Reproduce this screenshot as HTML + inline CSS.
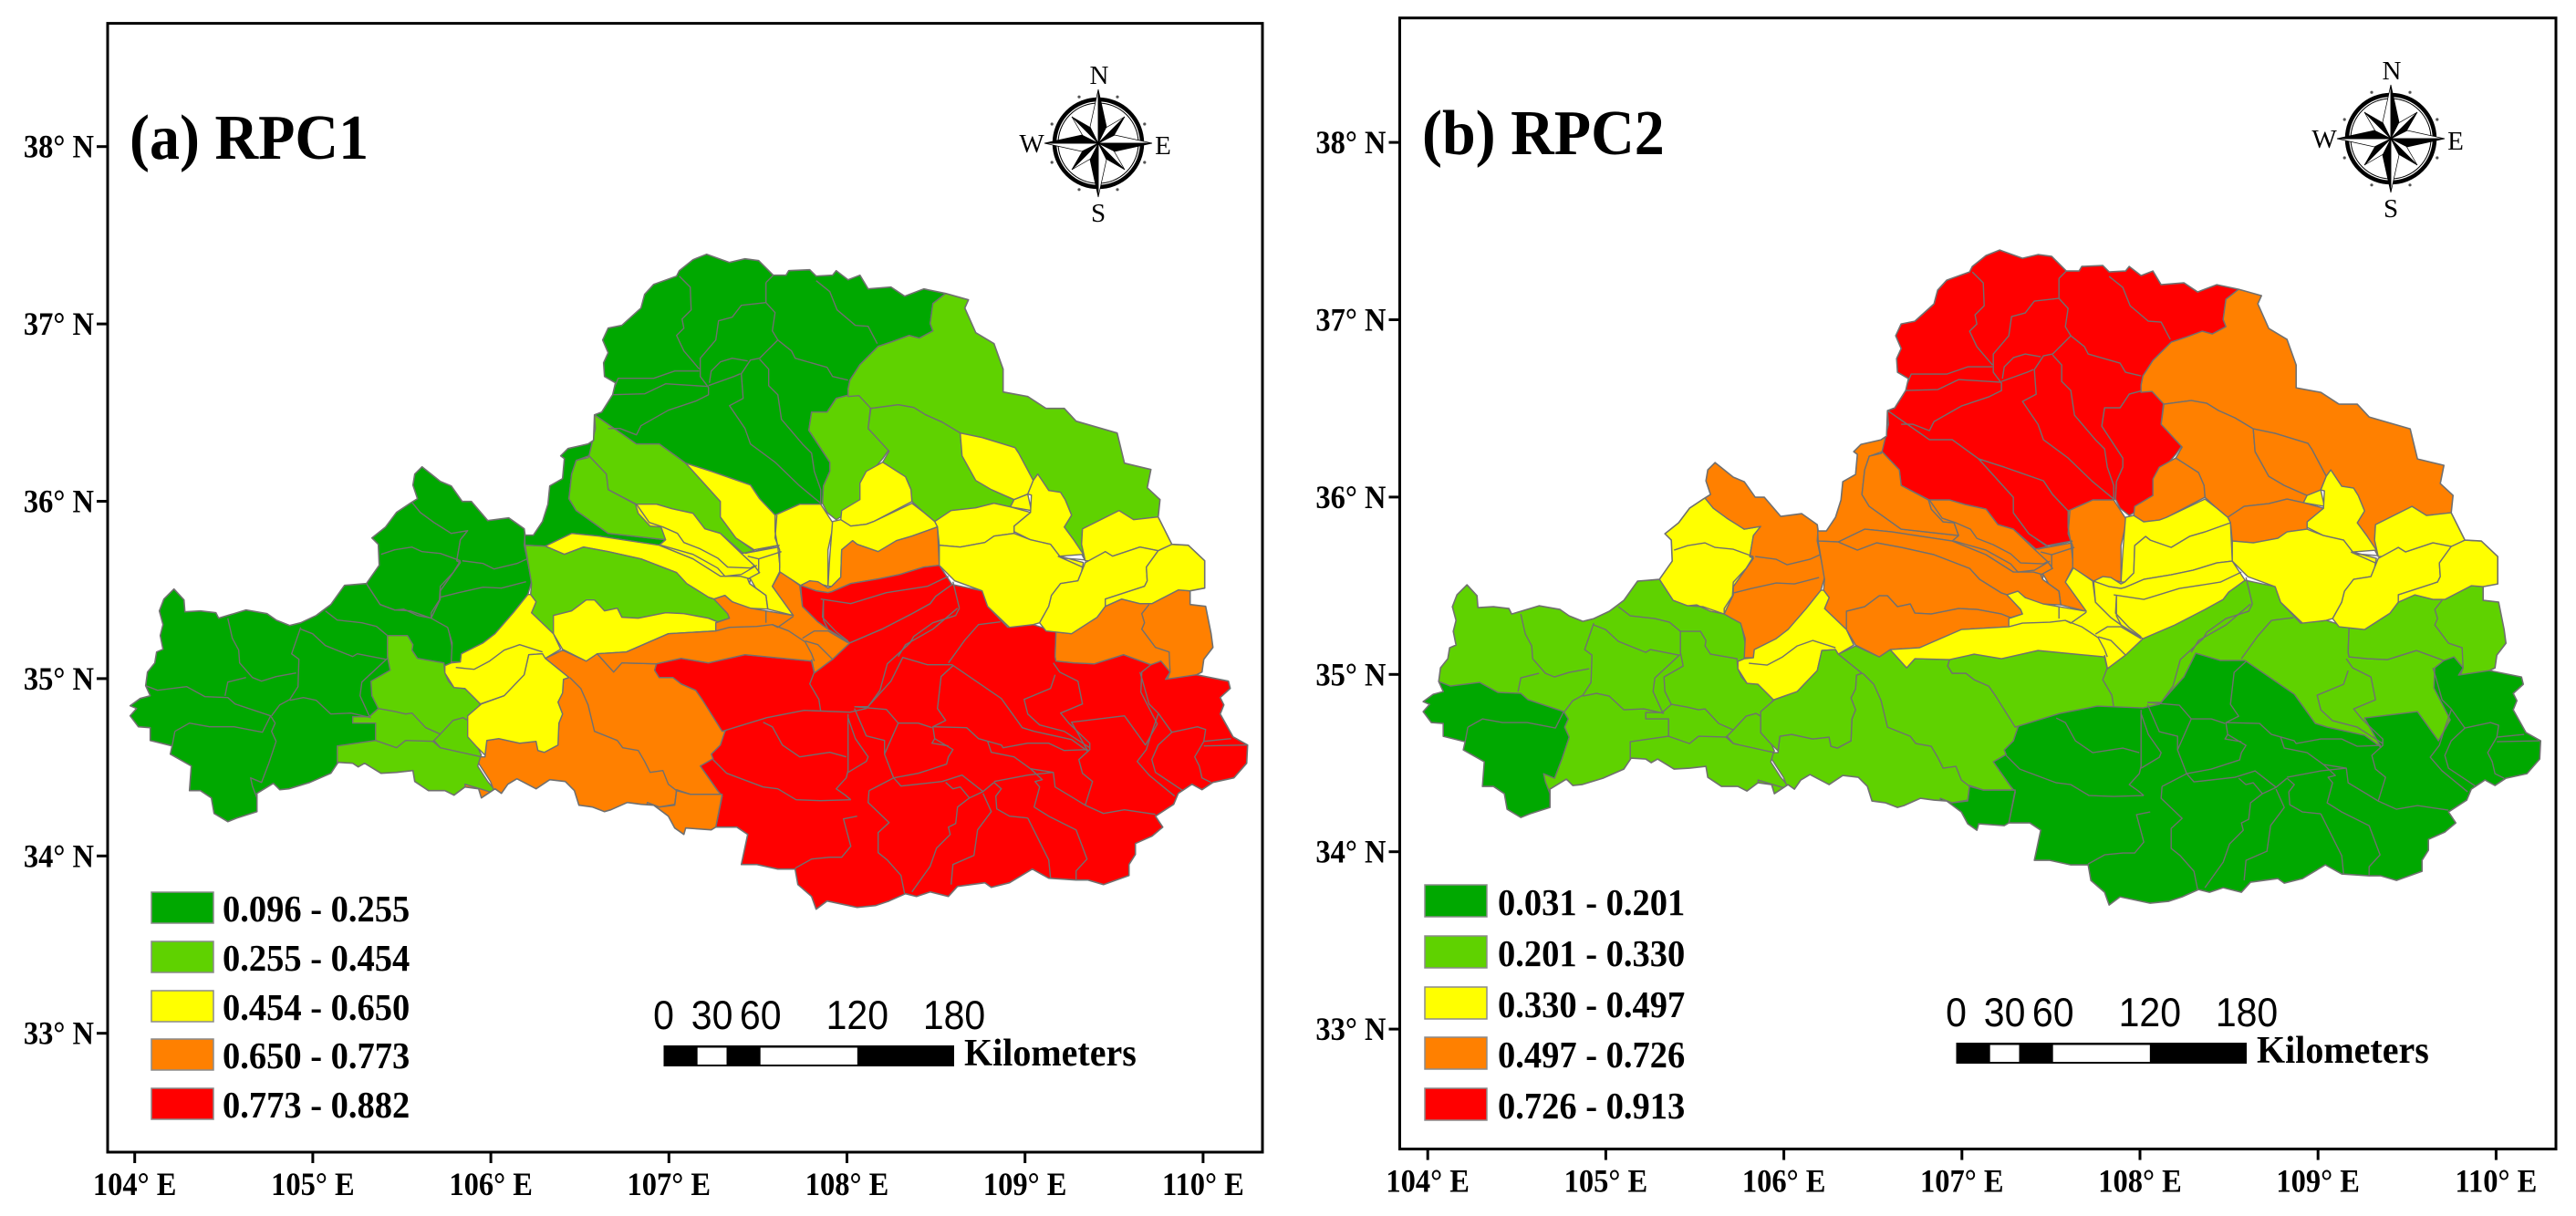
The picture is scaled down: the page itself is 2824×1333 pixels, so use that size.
<!DOCTYPE html>
<html lang="en">
<head>
<meta charset="utf-8">
<title>RPC1 and RPC2 subbasin maps</title>
<style>
html,body{margin:0;padding:0;background:#fff;}
svg{display:block;}
text{font-family:"Liberation Serif",serif;}
.sans{font-family:"Liberation Sans",sans-serif;}
</style>
</head>
<body>
<svg id="figure" xmlns="http://www.w3.org/2000/svg" width="2824" height="1333" viewBox="0 0 2824 1333"></svg>
<script>
/* ---- chart data ---- */
const lonTicks = [104, 105, 106, 107, 108, 109, 110];
const latTicks = [38, 37, 36, 35, 34, 33];
const lonTickLabels = ['104° E','105° E','106° E','107° E','108° E','109° E','110° E'];
const latTickLabels = ['38° N','37° N','36° N','35° N','34° N','33° N'];
const classColors = ['#00a800','#5fd200','#ffff00','#ff8000','#ff0000'];
const breaksRpc1 = [0.096, 0.255, 0.454, 0.650, 0.773, 0.882];
const breaksRpc2 = [0.031, 0.201, 0.330, 0.497, 0.726, 0.913];
const legendLabelsRpc1 = ['0.096 - 0.255','0.255 - 0.454','0.454 - 0.650','0.650 - 0.773','0.773 - 0.882'];
const legendLabelsRpc2 = ['0.031 - 0.201','0.201 - 0.330','0.330 - 0.497','0.497 - 0.726','0.726 - 0.913'];
const scaleKm = [0, 30, 60, 120, 180];

/* Sub-basin groups: one name, one RPC1 value, one RPC2 value, one ring each. */
const unitNames = ['west-main','south-west-lobe','north-west-yellow','north-west-orange','west-light','south-core','south-orange','south-notch','south-band','east-orange','north-core','neck-strip','north-light-a','north-light-b','upper-channel','centre-cluster','long-channel','centre-west-light','centre-west-yellow','mid-west-upper','mid-west-lower','central-corridor','centre-gauge','north-light-c','north-east-large','north-east-light','north-east-inner','small-triangle','north-east-spike','north-east-basin','north-centre-yellow','centre-strip','centre-orange','centre-red','east-large','east-upper','east-middle','east-edge'];
const rpc1Values = [0.18,0.18,0.18,0.18,0.35,0.83,0.71,0.71,0.83,0.71,0.18,0.18,0.35,0.35,0.55,0.55,0.55,0.35,0.55,0.55,0.55,0.71,0.55,0.35,0.35,0.35,0.55,0.55,0.55,0.55,0.55,0.55,0.71,0.83,0.55,0.55,0.55,0.55];
const rpc2Values = [0.27,0.12,0.41,0.60,0.27,0.12,0.27,0.12,0.27,0.27,0.82,0.60,0.82,0.60,0.82,0.60,0.60,0.60,0.60,0.41,0.27,0.41,0.60,0.82,0.60,0.60,0.60,0.41,0.41,0.60,0.60,0.41,0.41,0.41,0.41,0.41,0.41,0.41];

/* Geometry digitised on the source map grid: easting, northing in grid units
   (grid 148 = 104°E, grid northing 161 = 38°N; 195.2 / 194.4 units per degree). */
const basinOutline = "143,774 154,766 165,763 160,752 162,737 170,727 172,715 179,712 176,697 179,685 175,670 180,657 191,646 202,658 203,671 220,670 237,672 240,678 250,675 270,669 293,673 303,680 318,686 330,683 347,675 363,663 378,642 402,640 416,620 415,597 408,590 423,578 435,562 450,552 458,547 453,532 455,520 463,512 483,528 495,533 507,550 517,550 535,571 558,568 575,580 576,587 585,587 595,572 601,553 603,533 617,525 619,503 615,500 623,492 645,487 651,483 652,455 660,452 672,433 675,420 663,413 662,398 667,387 661,373 667,360 682,357 703,338 707,323 717,312 742,303 745,297 760,285 775,279 800,288 817,284 832,286 848,302 862,302 865,297 888,296 895,303 913,302 917,297 930,307 943,302 952,317 977,315 992,325 1013,317 1037,322 1062,329 1058,338 1070,365 1090,377 1100,405 1100,430 1127,435 1147,448 1167,448 1180,462 1225,475 1233,508 1262,515 1258,535 1272,548 1270,567 1285,597 1303,598 1321,615 1321,645 1305,648 1305,663 1322,665 1328,695 1330,710 1320,723 1318,737 1312,740 1347,747 1349,755 1338,765 1342,773 1338,783 1352,808 1368,817 1367,837 1353,853 1330,858 1318,866 1307,860 1292,870 1287,882 1267,895 1275,907 1263,917 1245,925 1245,937 1238,948 1238,960 1210,970 1193,965 1180,965 1150,963 1132,953 1107,968 1087,973 1080,968 1050,972 1040,983 1020,978 1005,983 993,980 975,988 960,993 940,995 907,988 895,997 890,983 875,970 872,953 853,953 830,948 813,948 820,915 808,907 785,907 780,910 752,908 750,915 740,908 733,895 717,883 703,882 688,880 670,888 663,890 650,885 635,883 630,867 620,857 603,855 588,865 567,854 557,860 550,870 543,865 528,875 525,865 510,863 498,872 488,867 470,867 455,857 453,845 435,847 418,848 400,837 393,841 387,837 371,836 363,848 340,858 317,865 307,866 300,859 282,870 282,890 260,897 250,901 235,892 232,875 220,867 208,867 210,840 187,827 189,818 165,812 165,798 152,797 143,785 150,777";
const unitRings = [
"130,620 420,620 490,680 500,730 440,760 420,850 300,880 130,880",
"130,752 160,752 173,757 205,753 225,764 250,765 258,772 297,785 302,793 298,802 303,813 295,837 287,858 275,853 277,862 282,875 282,910 130,910",
"452,551 461,562 476,573 495,585 513,582 505,592 501,615 505,617 483,648 483,657 473,678 458,675 443,668 433,669 417,663 402,640 380,630 400,540",
"473,678 480,682 491,688 496,705 495,726 505,726 506,717 530,705 543,695 563,672 579,652 583,638 580,622 575,598 576,582 590,560 560,500 440,500 440,540 452,551 461,562 476,573 495,585 513,582 505,592 501,615 505,617 483,648 483,657",
"425,697 447,697 453,707 452,713 458,722 487,727 488,738 492,747 498,754 510,755 527,772 513,790 513,803 522,815 528,828 524,840 535,857 545,869 545,890 370,890 370,818 412,812 412,793 387,793 387,786 405,786 415,777 408,763 407,747 428,735 425,720",
"795,802 900,700 1100,690 1300,720 1400,740 1400,1010 770,1010 785,907 792,873 787,867 768,840 782,832 780,827 790,817",
"598,722 617,713 643,725 655,717 673,737 682,727 720,728 718,735 723,743 738,743 747,750 763,757 770,767 790,782 795,802 790,817 780,827 782,832 768,840 787,867 792,873 785,907 785,930 520,930 510,860 543,870 538,857 525,837 527,830 532,830 534,812 547,810 570,815 588,813 590,823 597,825 612,817 613,793 617,783 612,770 617,760 618,745 624,743",
"742,866 757,871 792,871 785,907 785,930 700,930 710,880 723,885 740,882",
"720,728 747,722 777,727 817,718 890,725 893,738 913,723 932,705 967,690 1000,673 1020,662 1026,654 1044,641 1077,648 1083,665 1105,688 1133,685 1158,693 1157,720 1158,725 1178,727 1200,728 1232,718 1262,729 1252,737 1251,759 1269,794 1256,817 1233,785 1175,792 1193,824 1175,811 1134,802 1121,798 1098,766 1044,729 1017,729 990,721 977,747 950,777 932,781 882,779 841,787 792,802 770,767 763,757 747,750 738,743 723,743 718,735",
"1158,693 1175,695 1203,677 1212,665 1230,657 1250,662 1263,662 1292,647 1305,648 1360,640 1360,735 1312,740 1278,745 1283,737 1273,725 1262,729 1232,718 1200,728 1178,727 1158,725 1157,720",
"652,455 698,487 723,487 752,508 780,517 823,532 833,547 850,565 877,553 900,553 902,552 903,533 910,517 910,507 887,472 890,452 907,452 917,437 932,433 930,427 932,417 943,400 963,380 978,375 997,368 1008,371 1023,363 1020,355 1023,333 1037,322 1037,300 1000,260 700,260 640,400",
"575,575 600,480 655,480 646,500 632,505 627,520 624,547 632,560 667,585 730,592 723,598 683,592 657,588 627,585 598,599 576,598",
"652,455 698,487 723,487 752,508 790,550 790,567 807,590 827,604 815,607 790,585 773,580 760,563 737,558 720,553 698,553 667,537 665,520 646,500 650,483 653,470",
"632,505 645,502 646,500 665,520 667,537 697,553 700,563 713,577 725,578 730,592 667,585 632,560 624,547 627,520",
"752,508 780,517 823,532 833,547 850,565 852,583 854,598 827,603 807,590 790,567 790,550",
"697,553 720,553 737,558 760,563 773,580 790,585 813,607 827,605 854,600 855,618 855,627 847,643 870,675 842,668 823,635 790,632 760,613 723,598 730,592 725,578 713,577 700,563",
"598,599 627,585 657,588 683,592 723,598 760,613 790,632 812,632 823,635 822,640 840,653 842,668 820,667 803,660 795,653 783,657 777,655 753,640 742,628 703,613 667,605 640,600 619,608",
"576,598 598,599 619,608 640,600 667,605 703,613 742,628 753,640 777,655 783,657 798,673 800,678 787,682 777,678 750,673 730,672 700,678 682,677 677,667 663,670 652,658 643,658 627,670 607,675 607,695 583,672 588,660 582,652 583,640 580,622",
"607,675 627,670 643,658 652,658 663,670 677,667 682,677 700,678 730,672 750,673 777,678 787,682 785,692 733,695 687,715 655,717 643,725 617,712 607,695",
"495,727 488,730 488,738 498,754 510,755 527,772 553,763 575,740 580,718 595,717 598,722 615,712 607,695 583,672 588,660 582,652 579,652 563,672 543,695 530,705 506,717 505,726",
"528,772 553,763 575,740 580,718 595,717 598,722 624,743 618,745 617,760 612,770 617,783 613,793 612,817 597,825 590,823 588,813 570,815 547,810 534,812 532,828 522,818 513,808 513,785",
"655,717 687,715 733,695 785,692 785,683 800,678 798,673 783,657 795,653 803,660 823,667 840,670 870,675 847,643 856,627 877,642 880,665 897,682 908,690 932,705 913,723 893,738 890,725 817,718 777,727 747,722 720,728 682,727 673,737",
"850,565 877,553 900,553 913,573 913,580 908,603 908,643 888,637 878,642 855,627 855,618 853,600 850,583",
"887,472 890,452 907,452 917,437 932,433 942,434 955,443 952,470 975,493 968,503 945,530 943,548 922,567 917,570 907,562 902,552 903,533 910,517 910,507",
"930,427 932,417 943,400 963,380 978,375 997,368 1008,371 1023,363 1020,355 1023,333 1037,322 1040,300 1300,420 1340,560 1300,575 1270,567 1243,570 1227,560 1187,580 1186,597 1190,615 1178,593 1167,578 1175,565 1168,548 1163,540 1150,538 1138,520 1133,527 1117,497 1113,491 1077,480 1053,475 1033,463 1015,455 1002,447 985,444 955,448 942,434 930,435",
"955,448 985,444 1002,447 1015,455 1033,463 1053,475 1055,500 1070,527 1087,537 1112,548 1108,556 1090,552 1070,557 1043,560 1025,572 1013,562 1000,550 999,537 993,523 968,507 975,495 952,470",
"1053,475 1077,480 1113,491 1117,497 1133,527 1127,542 1112,548 1087,537 1070,527 1055,500",
"1112,548 1127,542 1131,560 1108,556",
"1138,520 1150,538 1163,540 1168,548 1175,565 1167,578 1178,593 1188,608 1162,610 1152,597 1130,592 1112,583 1112,577 1130,562 1131,543 1127,542 1133,527",
"1025,572 1043,560 1070,557 1090,552 1108,556 1130,562 1112,577 1112,585 1090,588 1080,595 1053,600 1030,598 1028,578",
"922,570 923,560 943,548 943,530 950,517 968,507 993,523 999,537 1000,550 958,572 950,575 933,577",
"913,572 922,570 933,577 950,575 958,572 1000,552 1013,562 1025,572 1028,578 1000,588 983,593 963,605 940,597 935,593 923,603 922,633 912,643 908,643 910,610",
"1028,578 1030,620 1013,622 987,630 963,635 933,640 912,649 908,650 895,648 878,642 888,637 897,638 908,645 912,643 922,633 923,603 935,593 940,597 963,605 983,593 1000,588",
"1030,620 1013,622 987,630 963,635 933,640 912,649 908,650 895,648 878,642 880,665 897,682 908,690 932,705 967,690 1000,673 1020,662 1026,654 1044,641",
"1030,598 1053,600 1080,595 1090,588 1112,585 1130,592 1152,597 1162,610 1188,617 1186,627 1182,637 1163,640 1153,653 1150,665 1140,683 1133,685 1107,688 1083,665 1077,648 1047,637 1030,620",
"1187,580 1227,560 1243,570 1270,567 1282,587 1285,597 1270,604 1250,600 1220,610 1212,605 1197,615 1190,615 1186,597",
"1190,617 1212,605 1220,610 1250,600 1270,604 1257,622 1258,637 1255,643 1212,657 1212,665 1203,677 1175,695 1147,692 1140,683 1150,665 1153,653 1163,640 1182,637 1186,627",
"1270,604 1285,597 1303,598 1325,615 1325,650 1305,648 1292,647 1263,662 1250,662 1230,657 1212,665 1212,657 1255,643 1258,637 1257,622"
];
const innerBoundaries = [
"192,802 208,793 230,797 257,797 288,803 297,785","189,818 192,802",
"250,678 255,700 262,713 263,727 277,743 287,747 303,742 325,738",
"330,688 320,717 328,723 327,753 318,767","330,690 343,695 357,708 387,720 392,717 423,723",
"357,670 370,680 397,683 413,687 425,697","425,722 397,748 395,763 405,785",
"318,767 307,773 298,785","318,768 333,765 347,768 363,783 385,782 407,787","247,763 250,748 270,743",
"418,608 433,603 452,600 463,605 483,607 505,615","507,615 530,618 542,624 567,618 578,613",
"505,615 497,628 483,643 482,658 473,672 473,678","483,655 503,650 530,644 550,645 577,638",
"402,640 417,663 433,669 450,670 473,678",
"415,777 432,780 445,783 452,782 467,798 483,805 497,790 508,787 513,790",
"483,805 475,813 483,820 528,830","412,812 435,820 445,812 477,813 483,820",
"500,732 520,734 537,725 553,713 570,707 595,715",
"625,743 637,755 645,773 652,802 677,812 683,820 700,823 707,835 713,847 727,845 733,860 742,867",
"742,867 757,871 792,871","742,867 740,883 723,885",
"745,303 757,315 758,340 748,350 750,360 742,368 750,385 767,405",
"840,310 840,332 850,343 847,363 853,373 833,393 823,395 813,410 815,437 800,445 817,470 823,487 850,507 877,533 900,552",
"840,332 813,335 803,348 788,352 785,373 768,393 768,413 777,425 777,433 763,440 733,450 703,467 698,477 680,470 667,470",
"767,407 740,407 717,415 678,415 673,427","777,424 730,421 707,432 672,433",
"777,423 805,413 812,410","778,420 780,407 790,397 803,393 820,396",
"833,394 843,405 843,423 853,433 857,460 880,487 890,497 893,517 900,537 900,552",
"853,373 868,385 872,393 907,403 913,413 930,417","895,308 910,320 918,340 938,357 952,358 962,377","848,302 840,310",
"698,553 712,573 727,578 743,585 750,595 768,602 787,612 798,622 823,623 828,620",
"725,598 760,608 787,623 795,632 813,630 830,620",
"813,607 827,620 833,628 820,635 822,640 840,653 842,668",
"817,607 855,598","820,610 832,613 832,628","832,613 857,605","852,565 850,590 855,603 855,623",
"840,670 840,683","785,692 800,688 830,687 847,685 865,692 883,704 890,717 893,725","847,685 853,688 870,676",
"883,703 897,707 905,715 913,723","880,700 893,692 908,692 930,705",
"900,657 933,662 972,650 1017,643 1040,632","1045,638 1052,667",
"903,658 902,677 917,693 930,703","985,720 993,707 1023,690 1050,667",
"1052,667 1048,675 1023,683 1002,698 998,705 973,728 965,757 952,775 937,775",
"1097,682 1073,685 1058,702 1040,727",
"1045,730 1032,742 1028,777 1037,790 1023,797 1060,798 1073,810 1098,817 1100,820 1127,815 1150,815 1167,823 1193,822",
"1155,727 1162,737 1182,747 1187,772 1163,782 1172,793 1195,815 1195,822 1183,833 1187,848 1198,857 1190,883",
"1157,740 1152,755 1123,767 1127,783 1140,795 1167,802 1195,820",
"1083,813 1087,825 1112,830 1130,843 1155,847 1157,863 1177,875 1190,883 1210,892 1233,888 1267,893",
"1250,737 1253,747 1260,772 1270,782 1285,803 1270,817 1263,833 1267,847 1297,867",
"1285,803 1313,797 1322,800 1320,813 1310,830 1315,840 1318,853 1328,858","1320,813 1350,810","1320,818 1367,817",
"1270,783 1263,803 1257,822 1247,835 1260,850 1288,873",
"1130,843 1143,855 1135,857 1140,863 1134,885 1150,895 1180,910 1192,942 1180,955 1180,965",
"1127,897 1150,943 1152,963","1090,858 1098,865 1092,873 1093,887 1107,895 1127,897","1090,857 1127,850 1155,847",
"953,867 980,853 1007,848 1038,838 1040,830 1045,822 1025,810","980,853 988,862 1033,857 1055,850 1078,868 1090,858",
"1023,797 1025,810 1022,815 1040,818","985,793 1007,793 1022,798","937,775 972,778 985,793 970,827 980,853",
"937,777 950,807 970,812 970,827","930,787 938,810 952,830 950,835 930,847",
"953,867 952,880 975,902 963,913 963,935 973,943 988,960 992,980",
"1037,858 1045,865 1053,863 1063,875 1078,868","1063,875 1050,885 1048,903 1040,907 1042,915 1027,930 1020,950 1000,978",
"1078,870 1087,890 1072,910 1068,938 1045,948 1043,970",
"837,792 847,797 858,817 877,830 910,825 928,830","782,833 797,848 837,863 853,865 873,877 900,878 933,877",
"930,783 930,845 928,853 917,865 927,872 933,877","940,895 925,898 933,928 923,940 910,940 890,942 872,952",
"890,723 893,737 888,750 898,767 900,780","903,658 903,680 908,690",
"1260,663 1252,673 1255,683 1252,690 1267,710 1282,715 1283,737 1280,745","1160,610 1187,622","1165,612 1189,614"
];

/* ---- projection from grid to geographic coordinates ---- */
function gridLon(u){ return 104 + (u - 148) / 195.2; }
function gridLat(v){ return 38 - (v - 161) / 194.4; }

const NS = 'http://www.w3.org/2000/svg';
const root = document.getElementById('figure');
function mk(tag, attrs, parent, txt){
  const el = document.createElementNS(NS, tag);
  for (const k in attrs) el.setAttribute(k, attrs[k]);
  if (txt !== undefined) el.textContent = txt;
  (parent || root).appendChild(el);
  return el;
}
function classIndex(value, breaks){
  for (let i = 0; i < classColors.length; i++) if (value <= breaks[i + 1]) return i;
  return classColors.length - 1;
}
/* text anchored at (x,y) with the source figure's slight vertical stretch */
function stretched(x, y, sy){
  return 'translate(' + x.toFixed(1) + ',' + y.toFixed(1) + ') scale(1,' + sy + ')';
}

const panels = [
  {key:'rpc1', title:'(a) RPC1', values:rpc1Values, breaks:breaksRpc1, legend:legendLabelsRpc1,
   frame:[118,25.6,1384,1263], x104:147.7, xDeg:195.2, y38:160.7, yDeg:194.4, dx:0, dy:0,
   titleX:142, titleY:174, rose:[1204,157], legendX:166, legendW:68, legendTops:[978,1032,1086,1139,1193], legendH:34, legendTextX:244, legendBase:1010.5,
   barDx:0, barDy:0},
  {key:'rpc2', title:'(b) RPC2', values:rpc2Values, breaks:breaksRpc2, legend:legendLabelsRpc2,
   frame:[1534.5,19.7,2802,1259.6], x104:1565.2, xDeg:195.2, y38:156.1, yDeg:194.4, dx:1417.5, dy:-4.6,
   titleX:1559, titleY:169, rose:[2621,152], legendX:1562, legendW:68, legendTops:[970,1026,1082,1137,1193], legendH:35, legendTextX:1642, legendBase:1003,
   barDx:1417, barDy:-3}
];

function drawPanel(p){
  const xAxis = lon => p.x104 + (lon - 104) * p.xDeg;
  const yAxis = lat => p.y38 + (38 - lat) * p.yDeg;
  const project = s => s.split(' ').map(pair => {
    const c = pair.split(',');
    return xAxis(gridLon(+c[0])).toFixed(1) + ',' + yAxis(gridLat(+c[1])).toFixed(1);
  }).join(' ');

  const g = mk('g', {});
  
  

  const clip = mk('clipPath', {id:'clip-' + p.key}, g);
  mk('polygon', {points:project(basinOutline)}, clip);

  const map = mk('g', {'clip-path':'url(#clip-' + p.key + ')'}, g);
  
  
  unitRings.forEach((ring, i) => {
    const poly = mk('polygon', {points:project(ring), fill:classColors[classIndex(p.values[i], p.breaks)], stroke:'#707070', 'stroke-width':1.4, 'stroke-linejoin':'round'}, map);
    
    
  });
  innerBoundaries.forEach(line => {
    const pl = mk('polyline', {points:project(line), fill:'none', stroke:'#707070', 'stroke-width':1.4, 'stroke-linejoin':'round'}, map);
    
    
  });
  const outline = mk('polygon', {points:project(basinOutline), fill:'none', stroke:'#707070', 'stroke-width':1.6, 'stroke-linejoin':'round'}, g);
  
  

  /* frame */
  const f = p.frame;
  const frame = mk('rect', {x:f[0], y:f[1], width:f[2]-f[0], height:f[3]-f[1], fill:'none', stroke:'#000', 'stroke-width':3}, g);
  
  

  /* ticks */
  lonTicks.forEach((lon, i) => {
    const x = xAxis(lon);
    const t = mk('line', {x1:x, x2:x, y1:f[3], y2:f[3] + 12, stroke:'#000', 'stroke-width':3}, g);
    
    
    const l = mk('text', {'text-anchor':'middle', 'font-size':32.5, 'font-weight':'bold', transform:stretched(x, f[3] + 47, 1.1)}, g, lonTickLabels[i]);
    
    
  });
  latTicks.forEach((lat, i) => {
    const y = yAxis(lat);
    const t = mk('line', {x1:f[0] - 12, x2:f[0], y1:y, y2:y, stroke:'#000', 'stroke-width':3}, g);
    
    
    const l = mk('text', {'text-anchor':'end', 'font-size':32.5, 'font-weight':'bold', transform:stretched(f[0] - 15, y + 12, 1.1)}, g, latTickLabels[i]);
    
    
  });

  /* title */
  const ti = mk('text', {'font-size':66, 'font-weight':'bold', transform:stretched(p.titleX, p.titleY, 1.06)}, g, p.title);
  
  

  /* legend */
  p.legend.forEach((label, i) => {
    const top = p.legendTops[i];
    const sw = mk('rect', {x:p.legendX, y:top, width:p.legendW, height:p.legendH, fill:classColors[i], stroke:'#8a8a8a', 'stroke-width':1.5}, g);
    
    
    const tx = mk('text', {'font-size':38.5, 'font-weight':'bold', transform:stretched(p.legendTextX, top + p.legendH - 2, 1.06)}, g, label);
    
    
  });

  drawRose(g, p.rose[0], p.rose[1]);
  drawScale(g, p.barDx, p.barDy);
}

function drawRose(parent, cx, cy){
  const g = mk('g', {transform:'translate(' + cx + ',' + cy + ')'}, parent);
  
  
  mk('circle', {r:48, fill:'#fff', stroke:'#000', 'stroke-width':4.5}, g);
  mk('circle', {r:44, fill:'none', stroke:'#000', 'stroke-width':1}, g);
  [22.5,67.5,112.5,157.5,202.5,247.5,292.5,337.5].forEach(a => {
    const r = a * Math.PI / 180;
    mk('circle', {cx:(55 * Math.sin(r)).toFixed(1), cy:(-55 * Math.cos(r)).toFixed(1), r:1.6, fill:'#555'}, g);
  });
  [45,135,225,315].forEach(a => {
    const s = mk('g', {transform:'rotate(' + a + ')'}, g);
    mk('polygon', {points:'0,-41 -8,-11 0,0', fill:'#fff', stroke:'#000', 'stroke-width':0.7}, s);
    mk('polygon', {points:'0,-41 8,-11 0,0', fill:'#000', stroke:'#000', 'stroke-width':0.7}, s);
  });
  [0,90,180,270].forEach(a => {
    const s = mk('g', {transform:'rotate(' + a + ')'}, g);
    mk('polygon', {points:'0,-59 -9,-18 0,0', fill:'#fff', stroke:'#000', 'stroke-width':0.7}, s);
    mk('polygon', {points:'0,-59 9,-18 0,0', fill:'#000', stroke:'#000', 'stroke-width':0.7}, s);
  });
  const n = mk('text', {x:1, y:-65, 'text-anchor':'middle', 'font-size':29}, g, 'N');
  
  
  const so = mk('text', {x:0, y:86, 'text-anchor':'middle', 'font-size':29}, g, 'S');
  
  
  const w = mk('text', {x:-73, y:10, 'text-anchor':'middle', 'font-size':29}, g, 'W');
  
  
  const e = mk('text', {x:71, y:12, 'text-anchor':'middle', 'font-size':29}, g, 'E');
  
  
}

function drawScale(parent, dx, dy){
  const kmX = km => 727.5 + km * (1046 - 727.5) / 180 + dx;
  const g = mk('g', {}, parent);
  
  
  mk('rect', {x:kmX(0), y:1146 + dy, width:kmX(180) - kmX(0), height:23, fill:'#000'}, g);
  mk('rect', {x:kmX(21), y:1148.5 + dy, width:kmX(39) - kmX(21), height:18.5, fill:'#fff'}, g);
  mk('rect', {x:kmX(60), y:1148.5 + dy, width:kmX(120) - kmX(60), height:18.5, fill:'#fff'}, g);
  scaleKm.forEach(km => {
    const t = mk('text', {'text-anchor':'middle', 'font-size':41, 'class':'sans', transform:stretched(kmX(km), 1128 + dy, 1.08)}, g, String(km));
    
    
  });
  const k = mk('text', {'font-size':40, 'font-weight':'bold', transform:stretched(1057 + dx, 1168 + dy, 1.05)}, g, 'Kilometers');
  
  
}

panels.forEach(drawPanel);
</script>
</body>
</html>
